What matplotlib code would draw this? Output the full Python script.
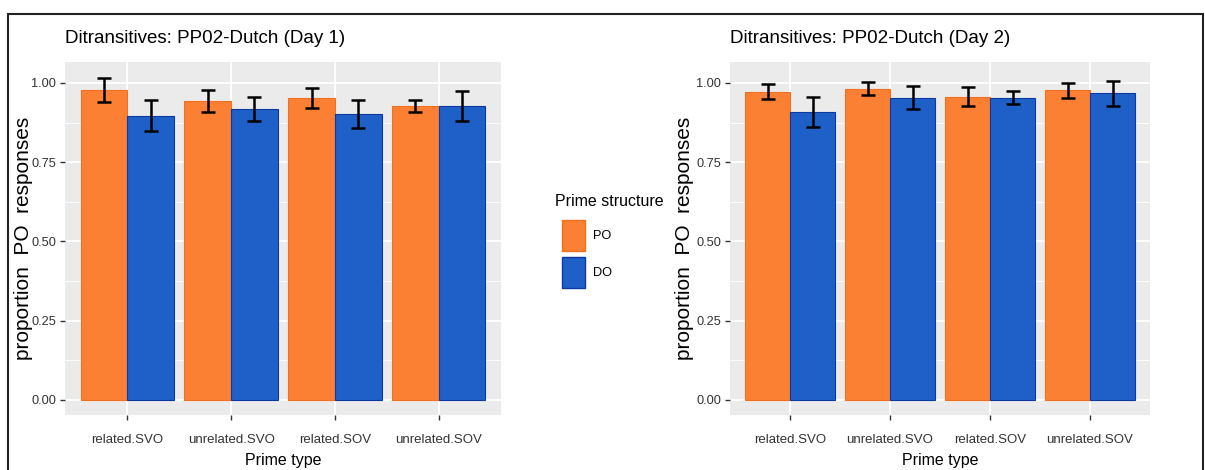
import numpy as np
import matplotlib
matplotlib.use("Agg")
import matplotlib.pyplot as plt
from matplotlib.patches import Rectangle

# --- data ---
prime_types = ["related.SVO", "unrelated.SVO", "related.SOV", "unrelated.SOV"]
structures = ["PO", "DO"]

day1_po = [0.978, 0.943, 0.952, 0.927]
day1_po_err = [0.039, 0.035, 0.032, 0.020]
day1_do = [0.897, 0.918, 0.903, 0.927]
day1_do_err = [0.050, 0.038, 0.044, 0.048]

day2_po = [0.972, 0.982, 0.956, 0.977]
day2_po_err = [0.024, 0.021, 0.030, 0.024]
day2_do = [0.909, 0.953, 0.953, 0.967]
day2_do_err = [0.047, 0.036, 0.020, 0.040]

y_ticks = [0.0, 0.25, 0.5, 0.75, 1.0]
y_tick_labels = ["0.00", "0.25", "0.50", "0.75", "1.00"]

# --- styling ---
font = "Liberation Sans"
po_face, po_edge = "#FB8034", "#F07020"
do_face, do_edge = "#1F60C8", "#0C3A9E"
panel_bg = "#EBEBEB"

W, H = 1205, 470
fig = plt.figure(figsize=(W / 100, H / 100), dpi=100)


def px_axes(x0, x1, y_top, y_bot):
    return fig.add_axes([x0 / W, (H - y_bot) / H, (x1 - x0) / W, (y_bot - y_top) / H])


def draw_panel(ax, po, po_err, do, do_err, title, ylab_x):
    x = np.arange(1, len(prime_types) + 1)
    bw = 0.45
    ax.set_facecolor(panel_bg)
    for s in ax.spines.values():
        s.set_visible(False)
    # grid
    for yv in y_ticks:
        ax.axhline(yv, color="white", lw=1.3, zorder=0)
    for yv in np.array(y_ticks[:-1]) + 0.125:
        ax.axhline(yv, color="white", lw=0.6, zorder=0)
    for xv in x:
        ax.axvline(xv, color="white", lw=1.3, zorder=0)

    b1 = ax.bar(x - bw / 2, po, bw, color=po_face, edgecolor=po_edge, lw=0.8, zorder=2)
    b2 = ax.bar(x + bw / 2, do, bw, color=do_face, edgecolor=do_edge, lw=0.8, zorder=2)
    ax.errorbar(x - bw / 2, po, yerr=po_err, fmt="none", ecolor="black", elinewidth=1.8,
                capsize=5, capthick=1.8, zorder=3)
    ax.errorbar(x + bw / 2, do, yerr=do_err, fmt="none", ecolor="black", elinewidth=1.8,
                capsize=5, capthick=1.8, zorder=3)

    ax.set_xlim(0.4, 4.6)
    ax.set_ylim(-0.048, 1.066)
    ax.set_xticks(x)
    ax.set_xticklabels(prime_types, fontsize=9.5, family=font, color="#333333")
    ax.set_yticks(y_ticks)
    ax.set_yticklabels(y_tick_labels, fontsize=9.2, family=font, color="#333333")
    ax.tick_params(length=3.5, width=1, color="#333333", pad=3)
    ax.tick_params(axis="x", pad=10)
    ax.set_xlabel("Prime type", fontsize=11.5, family=font, labelpad=5)
    ax.set_ylabel("proportion  PO  responses", fontsize=15, family=font)
    ax.yaxis.set_label_coords(ylab_x, 0.5)
    ax.set_title(title, fontsize=13.5, family=font, loc="left", pad=14)
    return b1, b2


ax1 = px_axes(65, 501, 62, 415)
draw_panel(ax1, day1_po, day1_po_err, day1_do, day1_do_err,
           "Ditransitives: PP02-Dutch (Day 1)", -0.073)

ax2 = px_axes(730, 1150, 62, 415)
draw_panel(ax2, day2_po, day2_po_err, day2_do, day2_do_err,
           "Ditransitives: PP02-Dutch (Day 2)", -0.086)

# legend drawn by hand (ggplot-style tall keys)
fig.text(555 / W, 1 - 201 / H, "Prime structure", fontsize=11.5, family=font, va="center", ha="left")
key_tops = [220, 257]
for lab, top, fc, ec in zip(structures, key_tops, [po_face, do_face], [po_edge, do_edge]):
    fig.add_artist(Rectangle((562 / W, 1 - (top + 31) / H), 23 / W, 31 / H,
                             transform=fig.transFigure, facecolor=fc, edgecolor=ec, lw=1))
    fig.text(593 / W, 1 - (top + 16) / H, lab, fontsize=9.2, family=font, va="center", ha="left")

# outer frame of the original figure
fig.add_artist(Rectangle((8 / W, -0.05), (1203 - 8) / W, (H - 14) / H + 0.05,
                         transform=fig.transFigure, fill=False, edgecolor="#222222", lw=1.5))

fig.savefig("out.png", dpi=100)
